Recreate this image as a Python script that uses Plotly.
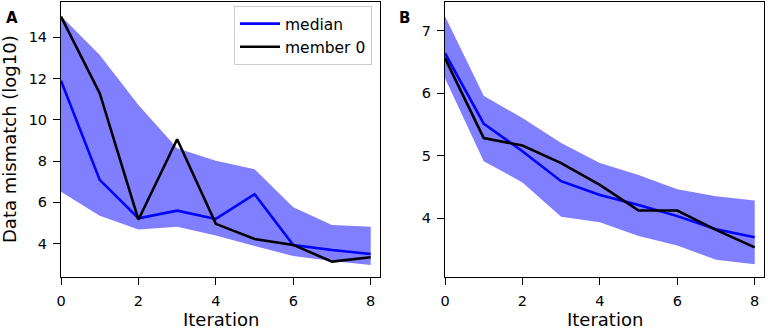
import plotly.graph_objects as go

iterations = [0, 1, 2, 3, 4, 5, 6, 7, 8]

# Panel A
a_median = [11.9, 7.09, 5.23, 5.60, 5.20, 6.40, 3.93, 3.69, 3.50]
a_member0 = [15.0, 11.29, 5.16, 9.06, 4.96, 4.23, 3.94, 3.13, 3.34]
a_upper = [15.03, 13.14, 10.72, 8.62, 8.02, 7.60, 5.76, 4.90, 4.82]
a_lower = [6.52, 5.35, 4.69, 4.82, 4.39, 3.89, 3.40, 3.16, 2.97]

# Panel B
b_median = [6.64, 5.51, 5.07, 4.59, 4.37, 4.21, 4.03, 3.82, 3.69]
b_member0 = [6.56, 5.28, 5.16, 4.88, 4.53, 4.12, 4.12, 3.81, 3.53]
b_upper = [7.23, 5.96, 5.60, 5.20, 4.88, 4.69, 4.46, 4.35, 4.28]
b_lower = [6.24, 4.91, 4.57, 4.02, 3.93, 3.71, 3.56, 3.33, 3.26]

a_yticks = [4, 6, 8, 10, 12, 14]
b_yticks = [4, 5, 6, 7]
x_ticks = [0, 2, 4, 6, 8]

FILL = "rgba(0,0,255,0.5)"
BLUE = "#0000ff"
BLACK = "#000000"
FONT = "DejaVu Sans"

fig = go.Figure()

def add_panel(xa, ya, upper, lower, median, member, show_legend):
    fig.add_trace(go.Scatter(
        x=iterations + iterations[::-1], y=upper + lower[::-1],
        fill="toself", fillcolor=FILL, line=dict(width=0), mode="lines",
        hoverinfo="skip", showlegend=False, xaxis=xa, yaxis=ya))
    fig.add_trace(go.Scatter(
        x=iterations, y=median, mode="lines", name="median",
        line=dict(color=BLUE, width=2.6), showlegend=show_legend,
        xaxis=xa, yaxis=ya))
    fig.add_trace(go.Scatter(
        x=iterations, y=member, mode="lines", name="member 0",
        line=dict(color=BLACK, width=2.6), showlegend=show_legend,
        xaxis=xa, yaxis=ya))

add_panel("x", "y", a_upper, a_lower, a_median, a_member0, True)
add_panel("x2", "y2", b_upper, b_lower, b_median, b_member0, False)

W, H = 768, 330
ydom = [1 - 277.3 / H, 1 - 2 / H]

axis_common = dict(
    showgrid=False, zeroline=False, showline=True, linecolor="black",
    linewidth=1, mirror=True, ticks="outside", ticklen=7, tickwidth=1,
    tickcolor="black", automargin=False, ticklabelstandoff=3,
    tickfont=dict(size=14.5, color="black", family=FONT),
)

ax_a = [61 / W, 380 / W]
ax_b = [445 / W, 764 / W]

fig.update_layout(
    width=W, height=H,
    margin=dict(l=0, r=0, t=0, b=0, autoexpand=False),
    paper_bgcolor="white", plot_bgcolor="white",
    font=dict(family=FONT, color="black"),
    xaxis=dict(domain=ax_a, range=[0, 8.24], tickvals=x_ticks,
               anchor="y", **axis_common),
    yaxis=dict(domain=ydom, range=[2.37, 15.71], tickvals=a_yticks,
               anchor="x", **axis_common),
    xaxis2=dict(domain=ax_b, range=[0, 8.24], tickvals=x_ticks,
                anchor="y2", **axis_common),
    yaxis2=dict(domain=ydom, range=[3.05, 7.46], tickvals=b_yticks,
                anchor="x2", **axis_common),
    legend=dict(x=372 / W, y=1 - 6 / H, xanchor="right", yanchor="top",
                bgcolor="rgba(255,255,255,0.8)", bordercolor="#cccccc",
                borderwidth=1, font=dict(size=15.5, family=FONT, color="black"),
                itemwidth=40, tracegroupgap=0),
    annotations=[
        dict(text="<b>A</b>", x=4 / W, y=1 - 7 / H, xref="paper", yref="paper",
             xanchor="left", yanchor="top", showarrow=False,
             font=dict(size=15, family=FONT, color="black")),
        dict(text="<b>B</b>", x=397 / W, y=1 - 7 / H, xref="paper", yref="paper",
             xanchor="left", yanchor="top", showarrow=False,
             font=dict(size=15, family=FONT, color="black")),
        dict(text="Iteration", x=sum(ax_a) / 2, y=1 - 319.5 / H, xref="paper",
             yref="paper", xanchor="center", yanchor="middle", showarrow=False,
             font=dict(size=18, family=FONT, color="black")),
        dict(text="Iteration", x=sum(ax_b) / 2, y=1 - 319.5 / H, xref="paper",
             yref="paper", xanchor="center", yanchor="middle", showarrow=False,
             font=dict(size=18, family=FONT, color="black")),
        dict(text="Data mismatch (log10)", x=10 / W, y=1 - 139 / H, xref="paper",
             yref="paper", xanchor="center", yanchor="middle", showarrow=False,
             textangle=-90, font=dict(size=18, family=FONT, color="black")),
    ],
)

fig.write_html("out.html", config={"displayModeBar": False},
               post_script="document.body.style.margin='0';document.body.style.overflow='hidden';")
